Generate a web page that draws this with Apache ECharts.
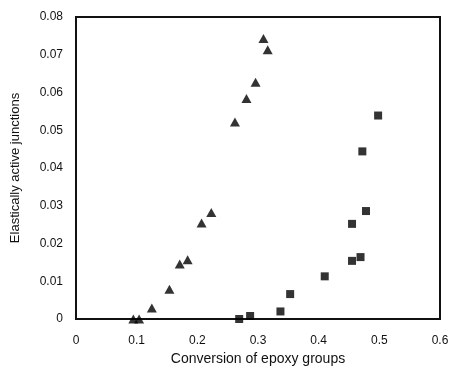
<!DOCTYPE html>
<html><head><meta charset="utf-8">
<script src="https://cdn.jsdelivr.net/npm/echarts@6/dist/echarts.min.js"></script>
<style>html,body{margin:0;padding:0;background:#fff}#c{width:451px;height:368px}</style>
</head><body><div id="c"></div>
<script>
const triX = [0.0945, 0.104, 0.125, 0.154, 0.171, 0.184, 0.207, 0.223, 0.262, 0.281, 0.296, 0.309, 0.316];
const triY = [0, 0, 0.0029, 0.0079, 0.0146, 0.0157, 0.0254, 0.0282, 0.0522, 0.0584, 0.0627, 0.0743, 0.0713];
const sqX = [0.269, 0.287, 0.337, 0.353, 0.410, 0.455, 0.469, 0.455, 0.478, 0.472, 0.498];
const sqY = [0, 0.0008, 0.0020, 0.0066, 0.0113, 0.0154, 0.0164, 0.0252, 0.0286, 0.0444, 0.0539];
const xTicks = ['0', '0.1', '0.2', '0.3', '0.4', '0.5', '0.6'];
const yTicks = ['0', '0.01', '0.02', '0.03', '0.04', '0.05', '0.06', '0.07', '0.08'];

const chart = echarts.init(document.getElementById('c'));
const font = 'Liberation Sans, Arial, sans-serif';
chart.setOption({
  animation: false,
  grid: {left: 76, top: 17, right: 11, bottom: 49, show: true, borderColor: '#111', borderWidth: 2,
    containLabel: false, outerBoundsMode: 'none'},
  xAxis: {
    type: 'value', min: 0, max: 0.6, interval: 0.1,
    name: 'Conversion of epoxy groups', nameLocation: 'middle', nameGap: 31,
    nameTextStyle: {fontFamily: font, fontSize: 14, color: '#111'},
    axisLine: {show: true, onZero: false, lineStyle: {color: '#111', width: 2}},
    axisTick: {show: false},
    splitLine: {show: false},
    axisLabel: {fontFamily: font, fontSize: 12, color: '#111', margin: 16,
      formatter: v => xTicks[Math.round(v * 10)]}
  },
  yAxis: {
    type: 'value', min: 0, max: 0.08, interval: 0.01,
    name: 'Elastically active junctions', nameLocation: 'middle', nameGap: 54,
    nameTextStyle: {fontFamily: font, fontSize: 13, color: '#111'},
    axisLine: {show: true, onZero: false, lineStyle: {color: '#111', width: 2}},
    axisTick: {show: false},
    splitLine: {show: false},
    axisLabel: {fontFamily: font, fontSize: 12, color: '#111', margin: 13,
      formatter: v => yTicks[Math.round(v * 100)]}
  },
  series: [
    {type: 'scatter', symbol: 'triangle', symbolSize: [10, 9], itemStyle: {color: '#000'},
      data: triX.map((x, i) => [x, triY[i]])},
    {type: 'scatter', symbol: 'rect', symbolSize: 8, itemStyle: {color: '#000'},
      data: sqX.map((x, i) => [x, sqY[i]])}
  ]
});
</script></body></html>
